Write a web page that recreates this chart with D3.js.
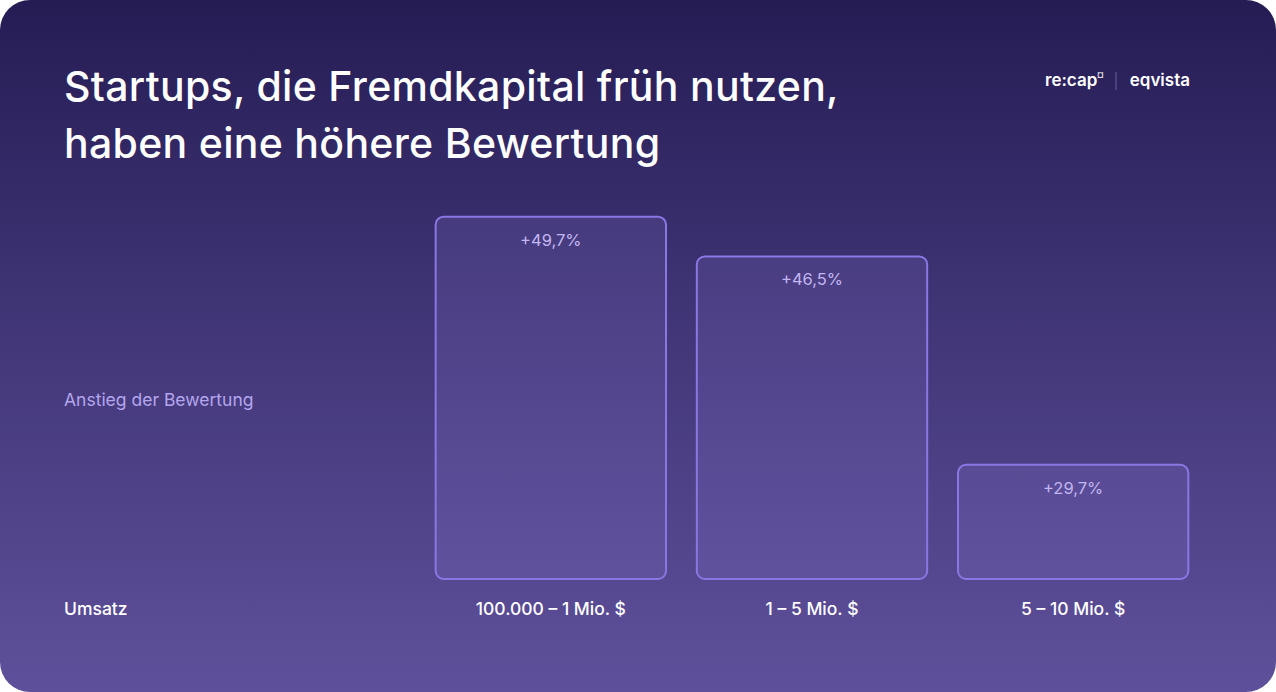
<!DOCTYPE html>
<html><head><meta charset="utf-8">
<script src="https://cdn.jsdelivr.net/npm/d3@7"></script>
<style>
html,body{margin:0;padding:0;background:#fff;}
svg{display:block;font-family:Inter,"Noto Sans",sans-serif;}
</style></head>
<body>
<svg id="c" width="1276" height="692"></svg>
<script>
const titleLines = ["Startups, die Fremdkapital früh nutzen,", "haben eine höhere Bewertung"];
const categories = ["100.000 – 1 Mio. $", "1 – 5 Mio. $", "5 – 10 Mio. $"];
const values = [49.7, 46.5, 29.7];
const valueLabels = ["+49,7%", "+46,5%", "+29,7%"];
const yAxisLabel = "Anstieg der Bewertung";
const xAxisLabel = "Umsatz";

const W = 1276, H = 692;
const svg = d3.select("#c");
const defs = svg.append("defs");
const g = defs.append("linearGradient").attr("id","bg").attr("x1",0).attr("y1",0).attr("x2",0).attr("y2",1);
g.append("stop").attr("offset","0%").attr("stop-color","#251c54");
g.append("stop").attr("offset","55%").attr("stop-color","#463a7d");
g.append("stop").attr("offset","100%").attr("stop-color","#5f509b");
svg.append("rect").attr("width",W).attr("height",H).attr("rx",30).attr("fill","url(#bg)");

// title
svg.append("g").selectAll("text").data(titleLines).join("text")
  .attr("x",64).attr("y",(d,i)=>101+i*57)
  .attr("fill","#ffffff").attr("font-size",41).attr("font-weight",500)
  .attr("letter-spacing","0.3")
  .text(d=>d);

// logo
const logo = svg.append("g").attr("font-size",17).attr("font-weight",600).attr("fill","#fff");
logo.append("text").attr("x",1045).attr("y",86).text("re:cap");
logo.append("text").attr("x",1097).attr("y",78).attr("font-size",9).text("¤");
logo.append("line").attr("x1",1116).attr("x2",1116).attr("y1",72).attr("y2",90).attr("stroke","#6a5f9a").attr("stroke-width",1);
logo.append("text").attr("x",1190).attr("y",86).attr("text-anchor","end").text("eqvista");

// scales
const x = d3.scaleBand().domain(categories).range([420, 1204]).paddingInner(0.118).paddingOuter(0.06);
const y = d3.scaleLinear().domain([20.5, 50]).range([579, 213]);

const bars = svg.append("g");
bars.selectAll("rect").data(values).join("rect")
  .attr("x",(d,i)=>x(categories[i]))
  .attr("y",d=>y(d))
  .attr("width",x.bandwidth())
  .attr("height",d=>y(20.5)-y(d))
  .attr("rx",8)
  .attr("fill","rgba(160,140,240,0.14)")
  .attr("stroke","#8b77e3").attr("stroke-width",2);

bars.selectAll("text.v").data(values).join("text").attr("class","v")
  .attr("x",(d,i)=>x(categories[i])+x.bandwidth()/2)
  .attr("y",d=>y(d)+29)
  .attr("text-anchor","middle").attr("font-size",16.5).attr("fill","#c2b6f2")
  .text((d,i)=>valueLabels[i]);

// category axis labels
svg.append("g").selectAll("text").data(categories).join("text")
  .attr("x",d=>x(d)+x.bandwidth()/2).attr("y",615)
  .attr("text-anchor","middle").attr("font-size",17.5).attr("font-weight",500).attr("fill","#fff")
  .text(d=>d);

svg.append("text").attr("x",64).attr("y",615).attr("font-size",17.5).attr("font-weight",500).attr("fill","#fff").text(xAxisLabel);
svg.append("text").attr("x",64).attr("y",406).attr("font-size",17.5).attr("fill","#b4a6ee").text(yAxisLabel);
</script>
</body></html>
